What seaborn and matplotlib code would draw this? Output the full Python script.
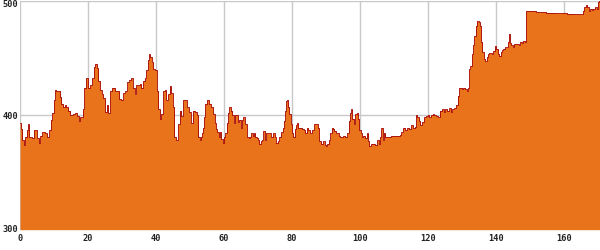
import numpy as np
import pandas as pd
import matplotlib
matplotlib.use("Agg")
import matplotlib.pyplot as plt
import seaborn as sns

# distance (km) where each step starts, and elevation (m)
distance = [
    0.0, 0.3, 0.7, 1.2, 1.6, 2.0, 2.4, 2.7, 3.4, 4.0, 4.9, 5.6, 6.0, 6.6, 7.5, 8.0, 8.6, 9.0, 9.5, 9.9,
    10.3, 10.7, 11.8, 12.2, 12.7, 13.3, 13.6, 14.2, 14.7, 15.5, 16.3, 16.8, 17.3, 17.6, 18.4, 18.9, 19.4,
    20.0, 20.6, 21.2, 21.7, 22.1, 22.6, 23.0, 23.5, 24.0, 24.5, 25.0, 25.5, 25.9, 26.5, 27.0, 27.5, 28.0,
    28.6, 29.2, 29.8, 30.4, 31.0, 31.6, 32.2, 32.6, 33.1, 33.7, 34.2, 34.7, 35.2, 35.7, 36.2, 36.7, 37.1,
    37.6, 38.0, 38.3, 38.7, 39.2, 39.7, 40.2, 40.7, 41.2, 41.6, 42.1, 42.6, 43.0, 43.5, 44.0, 44.4, 44.9,
    45.4, 45.9, 46.5, 47.0, 47.5, 48.0, 48.5, 49.0, 49.6, 50.2, 50.8, 51.4, 52.0, 52.5,
    52.9, 53.2, 53.5, 53.8, 54.1, 54.4, 54.9, 55.3, 55.6, 56.2, 56.8, 57.3, 57.6, 58.0, 58.5, 58.9, 59.2,
    59.6, 59.9, 60.4, 60.8, 61.2, 61.6, 62.0, 62.5, 62.8, 63.2, 63.7, 64.1, 64.5, 64.9, 65.3, 65.7, 66.1,
    66.7, 67.3, 67.6, 68.0, 68.4, 68.8, 69.2, 69.6, 70.0, 70.4, 70.8, 71.2, 71.6, 72.0, 72.4, 73.7, 74.3,
    74.9, 75.2, 75.9, 76.3, 76.7, 77.3, 77.6, 78.0, 78.3, 78.6, 78.9, 79.2, 79.6, 80.0, 80.4, 80.8, 81.1,
    81.5, 81.9, 82.4, 83.0, 83.5, 83.9, 84.3, 84.7, 85.3, 85.9, 86.5, 87.7, 88.0, 88.6, 89.2, 89.6, 90.0,
    90.4, 90.8, 91.3, 91.7, 92.2, 92.5, 92.9, 93.3, 93.7, 94.1, 94.5, 95.1, 95.7, 96.3, 96.7, 97.1, 97.5,
    97.7, 98.2, 98.6, 99.0, 99.4, 99.8, 100.2, 100.6, 101.0, 101.6, 102.0, 102.4, 102.7, 103.3, 104.3,
    105.1, 105.5, 105.9, 106.3, 106.7, 107.1, 107.5, 108.1, 108.6, 109.2, 109.8,
    111.8, 112.2, 112.7, 113.3, 113.9, 114.5, 115.0, 115.5, 116.1, 116.5, 116.9, 117.3, 117.8, 118.2,
    118.8, 119.4, 120.0, 120.4, 120.8, 121.4, 121.8, 122.4, 123.0, 123.4, 124.1, 124.7, 125.1, 125.7,
    126.3, 126.8, 127.2, 127.7, 128.2, 128.7, 129.2, 130.0, 130.4, 131.0, 131.4, 131.8, 132.1, 132.5,
    132.9, 133.3, 133.6, 134.0, 134.3, 134.9, 135.3, 135.6, 136.0, 136.4, 136.9, 137.3, 137.6, 138.0,
    138.8, 139.2, 139.6, 140.1, 140.6, 141.0, 141.4, 141.8, 142.2, 142.6, 143.1, 143.5, 143.8, 144.1,
    144.5, 144.9, 145.3, 146.1, 146.7, 147.1, 147.6, 148.0, 148.4, 148.8, 151.8, 154.7, 157.3, 160.8,
    162.9, 165.5, 165.9, 166.5, 166.9, 167.3, 167.8, 168.2, 168.6, 169.0, 169.6, 170.0, 170.3, 170.6,
]
elevation = [
    393, 388, 378, 374, 381, 387, 392, 381, 380, 387, 380, 376, 382, 385, 384, 381, 387, 396, 402, 413,
    422, 421, 416, 410, 407, 409, 407, 404, 400, 401, 402, 399, 395, 398, 405, 424, 432,
    424, 426, 432, 442, 445, 441, 430, 422, 418, 415, 403, 409, 402, 421, 424, 424, 421,
    421, 414, 413, 419, 421, 429, 431, 432, 424, 418, 426, 426, 427, 424, 430, 432, 439,
    448, 453, 451, 446, 440, 439, 421, 405, 397, 401, 421, 422, 413, 418, 425, 419, 407,
    381, 378, 392, 404, 399, 413, 413, 407, 403, 393, 404, 403, 400, 381,
    378, 381, 384, 389, 398, 410, 413, 413, 410, 407, 401, 393, 388, 385, 381, 385, 379,
    376, 381, 384, 393, 402, 407, 404, 400, 393, 400, 400, 394, 396, 389, 396, 398, 392,
    381, 380, 381, 384, 382, 384, 381, 380, 378, 375, 377, 378, 386, 378, 384, 381, 384,
    381, 376, 377, 381, 385, 389, 395, 404, 412, 413, 407, 401, 392, 384, 381, 388, 391,
    393, 389, 389, 388, 387, 384, 389, 387, 384, 387, 392, 389, 377, 375, 377, 374, 373,
    375, 378, 384, 389, 388, 386, 384, 384, 382, 381, 381, 382, 381, 384, 395, 402, 405,
    397, 392, 401, 402, 397, 387, 384, 381, 382, 380, 384, 377, 373, 375, 374,
    378, 375, 381, 389, 378, 384, 381, 381, 381, 382, 382,
    383, 385, 389, 387, 389, 388, 391, 389, 390, 400, 398, 395, 391, 394,
    398, 399, 400, 398, 400, 401, 400, 399, 398, 404, 405, 403, 405, 404,
    406, 403, 405, 406, 409, 417, 424, 423, 424, 423, 421, 424, 440, 443,
    453, 461, 469, 478, 482, 481, 478, 464, 455, 449, 447, 451, 453, 454,
    453, 456, 460, 458, 453, 452, 455, 457, 458, 459, 459, 464, 471, 463,
    461, 459, 462, 462, 461, 464, 463, 465, 464, 491, 490, 489.5, 489, 488.5,
    488, 491, 494, 496, 494, 491, 493, 492, 493, 494, 493, 499, 500, 500,
]

x_ticks = [0, 20, 40, 60, 80, 100, 120, 140, 160]
y_ticks = [300, 400, 500]

df = pd.DataFrame({"distance": distance, "elevation": elevation})

sns.set_theme(style="white")
plt.rcParams["font.family"] = ["DejaVu Sans Mono", "DejaVu Sans"]

fig = plt.figure(figsize=(6, 2.5), dpi=100)
ax = fig.add_axes([20 / 600, 20.3 / 250, 580 / 600, 229.2 / 250])

ax.fill_between(df["distance"], df["elevation"], 300, step="post",
                color="#E8731A", linewidth=0, zorder=2)
sns.lineplot(data=df, x="distance", y="elevation", ax=ax, drawstyle="steps-post",
             color="#A50000", linewidth=0.6, zorder=3, estimator=None, sort=False)

ax.set_xlim(0, 170.6)
ax.set_ylim(300, 500)
ax.set_xticks(x_ticks)
ax.set_yticks(y_ticks)
ax.set_xticklabels([str(t) for t in x_ticks])
ax.set_yticklabels([str(t) for t in y_ticks])
ax.set_xlabel("")
ax.set_ylabel("")
ax.grid(True, color="#C8C8C8", linewidth=1.0, zorder=0)
ax.set_axisbelow(True)
for s in ax.spines.values():
    s.set_visible(False)
ax.tick_params(axis="both", length=0, labelsize=6.2, colors="#222222")
ax.tick_params(axis="y", pad=1.5)
ax.tick_params(axis="x", pad=3.0)
for lbl in ax.get_yticklabels() + ax.get_xticklabels():
    lbl.set_fontweight("bold")
ylabels = ax.get_yticklabels()
ylabels[-1].set_verticalalignment("top")
ylabels[0].set_verticalalignment("center")

fig.savefig("out.png", dpi=100)
